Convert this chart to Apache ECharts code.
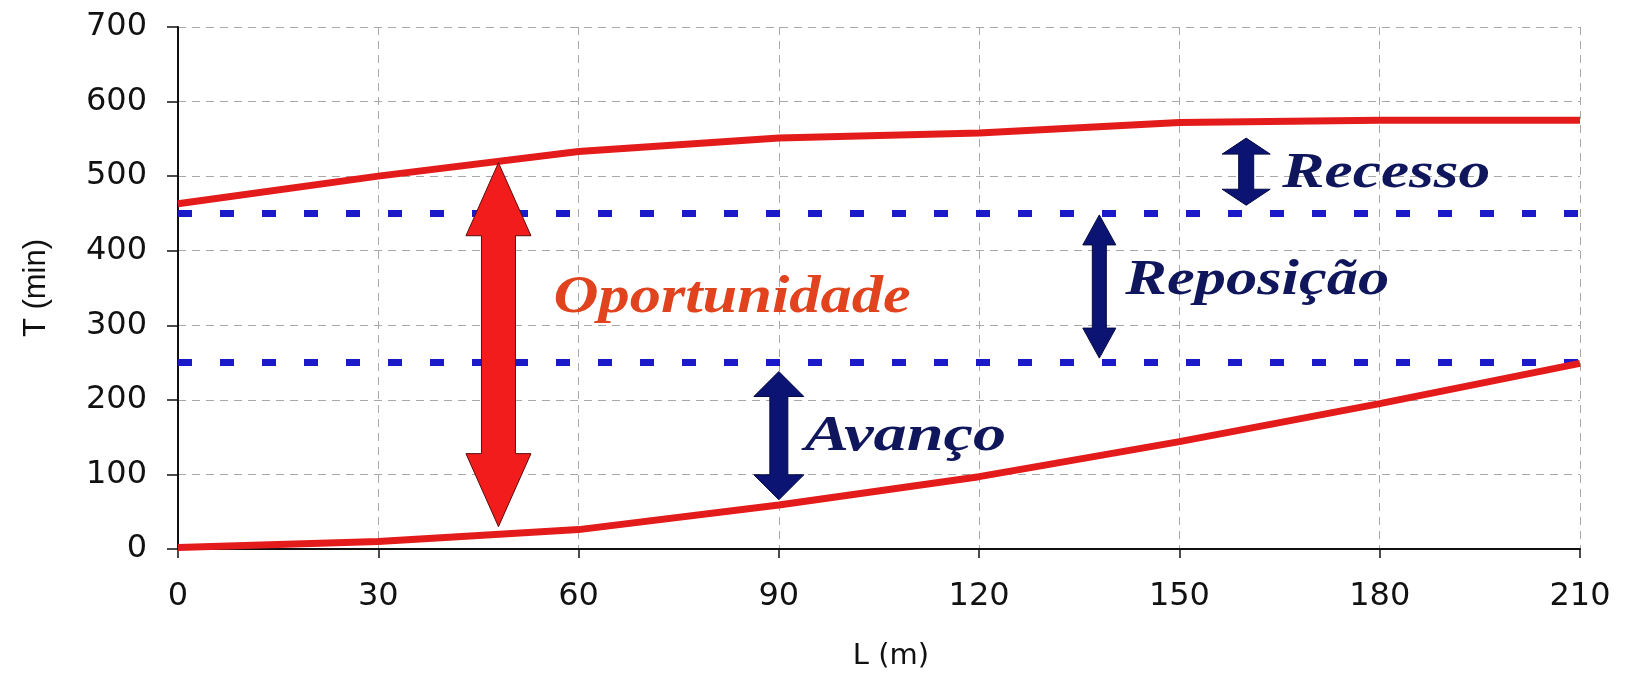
<!DOCTYPE html>
<html>
<head>
<meta charset="utf-8">
<script src="https://cdn.jsdelivr.net/npm/echarts@6/dist/echarts.min.js"></script>
<style>
  html, body { margin: 0; padding: 0; background: #ffffff; }
  #chart { width: 1626px; height: 676px; }
</style>
</head>
<body>
<div id="chart"></div>
<script>
// Distance along the field (m) and the two front curves (min)
const L = [0, 30, 60, 90, 120, 150, 180, 210];
const recessoCurve = [463, 500, 533, 551, 558, 572, 575, 575];
const avancoCurve = [2, 10, 26, 59, 97, 144, 195, 249];

// Horizontal reference times (min)
const levelTimes = [450, 250];

// Double arrows: position along L and the time span they cover
const arrowNames = ['Oportunidade', 'Avanço', 'Reposição', 'Recesso'];
const arrowL = [48, 90, 138, 160];
const arrowLow = [30, 66, 256, 461];
const arrowHigh = [518, 238, 448, 551];

// Axis ticks
const xTicks = { min: 0, max: 210, interval: 30 };
const yTicks = { min: 0, max: 700, interval: 100 };

// Drawing styles for each arrow and its caption
const NAVY = '#0b1472';
const arrowStyles = [
  { fill: '#f21c1c', stroke: '#5c0c0c', head: 65, headLen: 73, shaft: 34,
    text: '#e0431d', fontSize: 52, stretch: 1.2, dx: 55, dy: -46 },
  { fill: NAVY, stroke: '#050a40', head: 50, headLen: 25, shaft: 18,
    text: '#10165c', fontSize: 51, stretch: 1.3, dx: 26, dy: 1 },
  { fill: NAVY, stroke: '#050a40', head: 33, headLen: 30, shaft: 14,
    text: '#10165c', fontSize: 50, stretch: 1.25, dx: 26, dy: -5 },
  { fill: NAVY, stroke: '#050a40', head: 48, headLen: 16, shaft: 15,
    text: '#10165c', fontSize: 50, stretch: 1.27, dx: 36, dy: 2 }
];

const chart = echarts.init(document.getElementById('chart'), null, { renderer: 'canvas' });

function renderArrow(params, api) {
  const i = params.dataIndex;
  const st = arrowStyles[i];
  const top = api.coord([api.value(0), api.value(2)]);
  const bot = api.coord([api.value(0), api.value(1)]);
  const x = top[0], yT = top[1], yB = bot[1];
  const hw = st.head / 2, sw = st.shaft / 2, h = st.headLen;
  const points = [
    [x, yT], [x + hw, yT + h], [x + sw, yT + h], [x + sw, yB - h],
    [x + hw, yB - h], [x, yB], [x - hw, yB - h], [x - sw, yB - h],
    [x - sw, yT + h], [x - hw, yT + h]
  ];
  return {
    type: 'group',
    children: [
      { type: 'polygon', shape: { points: points },
        style: { fill: st.fill, stroke: st.stroke, lineWidth: 1 } },
      { type: 'text', x: x + st.dx, y: (yT + yB) / 2 + st.dy, scaleX: st.stretch,
        style: { text: arrowNames[i], fill: st.text, fontFamily: 'Liberation Serif',
          fontStyle: 'italic', fontWeight: 'bold', fontSize: st.fontSize,
          align: 'left', verticalAlign: 'middle' } }
    ]
  };
}

const gridDash = { color: '#a8a8a8', width: 1, type: [8, 6] };

const option = {
  animation: false,
  backgroundColor: '#ffffff',
  grid: { left: 178, right: 46, top: 27, bottom: 127, containLabel: false, outerBoundsMode: 'none' },
  xAxis: {
    type: 'value', min: xTicks.min, max: xTicks.max, interval: xTicks.interval,
    name: 'L (m)', nameLocation: 'middle', nameGap: 93,
    nameTextStyle: { fontFamily: 'DejaVu Sans', fontSize: 29, color: '#111', padding: [0, 0, 0, 24] },
    axisLine: { show: true, onZero: false, lineStyle: { color: '#111', width: 2 } },
    axisTick: { show: true, inside: false, length: 9, lineStyle: { color: '#111', width: 1.5 } },
    axisLabel: { fontFamily: 'DejaVu Sans', fontSize: 32, color: '#111', margin: 32 },
    splitLine: { show: true, lineStyle: gridDash }
  },
  yAxis: {
    type: 'value', min: yTicks.min, max: yTicks.max, interval: yTicks.interval,
    name: 'T (min)', nameLocation: 'middle', nameGap: 126, nameRotate: 90,
    nameTextStyle: { fontFamily: 'Liberation Sans', fontSize: 31, color: '#111' },
    axisLine: { show: true, onZero: false, lineStyle: { color: '#111', width: 2 } },
    axisTick: { show: true, inside: false, length: 11, lineStyle: { color: '#111', width: 1.5 } },
    axisLabel: { fontFamily: 'DejaVu Sans', fontSize: 32, color: '#111', margin: 31 },
    splitLine: { show: true, lineStyle: gridDash }
  },
  series: [
    ...levelTimes.map(t => ({
      type: 'line', name: 'T = ' + t, z: 2, silent: true,
      data: [[xTicks.min, t], [xTicks.max, t]],
      showSymbol: false,
      lineStyle: { color: '#1a1ac8', width: 7, type: [14, 28] }
    })),
    {
      type: 'line', name: 'Recesso', z: 3, showSymbol: false,
      data: L.map((l, i) => [l, recessoCurve[i]]),
      lineStyle: { color: '#e41b1b', width: 7 }
    },
    {
      type: 'line', name: 'Avanço', z: 3, showSymbol: false,
      data: L.map((l, i) => [l, avancoCurve[i]]),
      lineStyle: { color: '#e41b1b', width: 7 }
    },
    {
      type: 'custom', name: 'Setas', z: 5, clip: false,
      coordinateSystem: 'cartesian2d',
      renderItem: renderArrow,
      encode: { x: 0, y: [1, 2] },
      data: arrowL.map((l, i) => [l, arrowLow[i], arrowHigh[i]])
    }
  ]
};

chart.setOption(option);
</script>
</body>
</html>
